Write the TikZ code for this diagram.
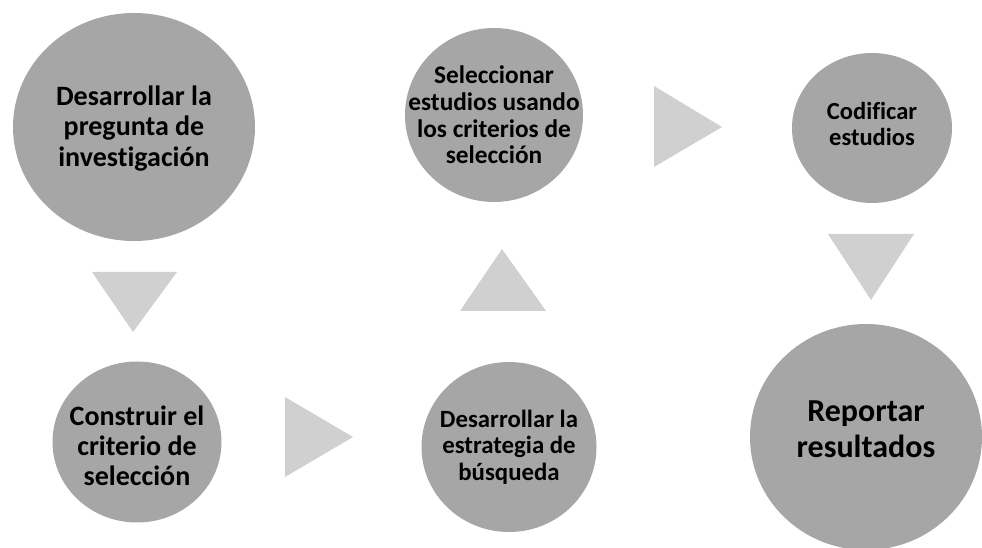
\documentclass[tikz,border=0pt]{standalone}
\usepackage{fontspec}
\setmainfont{Carlito}[Ligatures=NoCommon]
\usepackage{tikz}
\usetikzlibrary{shapes.geometric}
\definecolor{bolagris}{RGB}{166,166,166}
\definecolor{flechagris}{RGB}{208,208,208}

\begin{document}
\begin{tikzpicture}[x=0.75pt,y=-0.75pt,
    paso/.style={ellipse,fill=bolagris,inner sep=0pt},
    texto/.style 2 args={align=center,font=\bfseries\fontsize{#1}{#2}\selectfont},
    flecha/.style={fill=flechagris}]
		      \useasboundingbox (0,0) rectangle (982,548);
		      % circulos
		      \node[paso,minimum width=181.5pt,minimum height=171pt] (q_0) at (134,127) {};
		      \node[paso,minimum width=126.75pt,minimum height=120.75pt] (q_1) at (137,442) {};
		      \node[paso,minimum width=131.25pt,minimum height=127.5pt] (q_2) at (509,447) {};
		      \node[paso,minimum width=133.5pt,minimum height=130.5pt] (q_3) at (494,115) {};
		      \node[paso,minimum width=120pt,minimum height=112.5pt] (q_4) at (872,128) {};
		      \node[paso,minimum width=174pt,minimum height=169.5pt] (q_5) at (866,437) {};

		      % textos
		      \node[texto={21}{23}] (t_0) at ([yshift=-1pt]q_0) {Desarrollar la\\pregunta de\\investigación};
		      \node[texto={21}{22.5}] (t_1) at ([yshift=-3pt]q_1) {Construir el\\criterio de\\selección};
		      \node[texto={18.6}{20}] (t_2) at (q_2) {Desarrollar la\\estrategia de\\búsqueda};
		      \node[texto={19}{20}] (t_3) at (q_3) {Seleccionar\\estudios usando\\los criterios de\\selección};
		      \node[texto={18.4}{19}] (t_4) at ([yshift=3pt]q_4) {Codificar\\estudios};
		      \node[texto={24}{27}] (t_5) at ([yshift=6pt]q_5) {Reportar\\resultados};

		      % flechas
		      \fill[flecha] (92,272) -- (177,272) -- (133,332) -- cycle;
		      \fill[flecha] (285,397) -- (353,437) -- (285,477) -- cycle;
		      \fill[flecha] (460,311) -- (546,311) -- (502,249) -- cycle;
		      \fill[flecha] (654,86) -- (722,127) -- (654,167) -- cycle;
		      \fill[flecha] (828,234) -- (914,234) -- (871,300) -- cycle;
		    \end{tikzpicture}
\end{document}
